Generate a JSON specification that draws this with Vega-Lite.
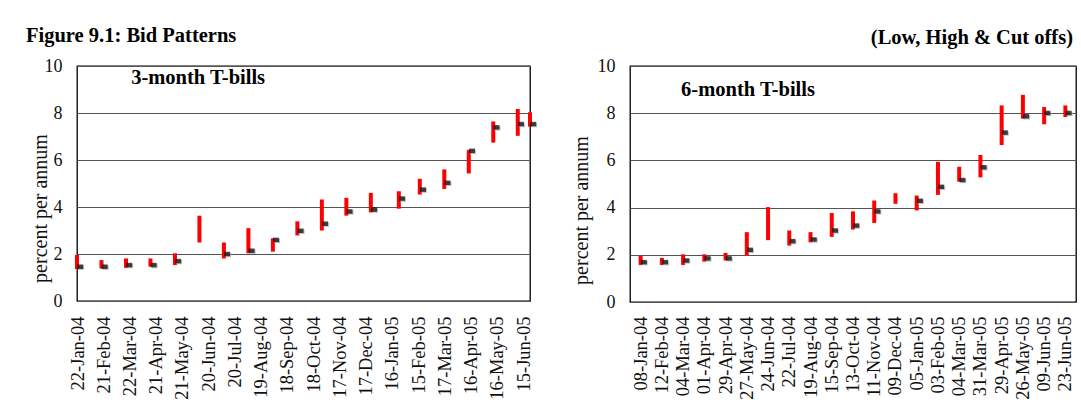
{
  "$schema": "https://vega.github.io/schema/vega-lite/v6.json",
  "background": "white",
  "padding": {"left": 25, "top": 25, "right": 0, "bottom": 0},
  "spacing": 32,
  "datasets": {
    "m3": [
      {"date": "2004-01-22T00:00", "low": 1.36, "high": 1.96, "cutoff": 1.46},
      {"date": "2004-02-19T00:00", "low": 1.38, "high": 1.74, "cutoff": 1.46},
      {"date": "2004-03-18T00:00", "low": 1.41, "high": 1.81, "cutoff": 1.53},
      {"date": "2004-04-15T00:00", "low": 1.46, "high": 1.81, "cutoff": 1.53},
      {"date": "2004-05-13T00:00", "low": 1.53, "high": 2.03, "cutoff": 1.70},
      {"date": "2004-06-10T00:00", "low": 2.49, "high": 3.63, "cutoff": null},
      {"date": "2004-07-08T00:00", "low": 1.81, "high": 2.49, "cutoff": 2.00},
      {"date": "2004-08-05T00:00", "low": 2.03, "high": 3.10, "cutoff": 2.14},
      {"date": "2004-09-02T00:00", "low": 2.10, "high": 2.67, "cutoff": 2.60},
      {"date": "2004-09-30T00:00", "low": 2.79, "high": 3.39, "cutoff": 2.99},
      {"date": "2004-10-28T00:00", "low": 3.00, "high": 4.32, "cutoff": 3.29},
      {"date": "2004-11-25T00:00", "low": 3.63, "high": 4.39, "cutoff": 3.81},
      {"date": "2004-12-23T00:00", "low": 3.77, "high": 4.60, "cutoff": 3.89},
      {"date": "2005-01-24T00:00", "low": 3.93, "high": 4.67, "cutoff": 4.36},
      {"date": "2005-02-17T00:00", "low": 4.53, "high": 5.20, "cutoff": 4.74},
      {"date": "2005-03-17T00:00", "low": 4.77, "high": 5.60, "cutoff": 5.03},
      {"date": "2005-04-14T00:00", "low": 5.43, "high": 6.43, "cutoff": 6.39},
      {"date": "2005-05-12T00:00", "low": 6.74, "high": 7.64, "cutoff": 7.39},
      {"date": "2005-06-09T00:00", "low": 7.03, "high": 8.17, "cutoff": 7.53},
      {"date": "2005-06-23T00:00", "low": 7.42, "high": 8.03, "cutoff": 7.53}
    ],
    "m6": [
      {"label": "08-Jan-04", "low": 1.57, "high": 1.95, "cutoff": 1.69},
      {"label": "12-Feb-04", "low": 1.57, "high": 1.87, "cutoff": 1.69},
      {"label": "04-Mar-04", "low": 1.57, "high": 2.02, "cutoff": 1.76},
      {"label": "01-Apr-04", "low": 1.71, "high": 2.02, "cutoff": 1.85},
      {"label": "29-Apr-04", "low": 1.76, "high": 2.08, "cutoff": 1.85},
      {"label": "27-May-04", "low": 1.97, "high": 2.96, "cutoff": 2.21},
      {"label": "24-Jun-04", "low": 2.62, "high": 4.02, "cutoff": null},
      {"label": "22-Jul-04", "low": 2.39, "high": 3.03, "cutoff": 2.58},
      {"label": "19-Aug-04", "low": 2.53, "high": 2.96, "cutoff": 2.65},
      {"label": "15-Sep-04", "low": 2.76, "high": 3.77, "cutoff": 3.03},
      {"label": "13-Oct-04", "low": 3.07, "high": 3.84, "cutoff": 3.24},
      {"label": "11-Nov-04", "low": 3.35, "high": 4.30, "cutoff": 3.84},
      {"label": "09-Dec-04", "low": 4.16, "high": 4.61, "cutoff": null},
      {"label": "05-Jan-05", "low": 3.88, "high": 4.51, "cutoff": 4.29},
      {"label": "03-Feb-05", "low": 4.54, "high": 5.94, "cutoff": 4.88},
      {"label": "04-Mar-05", "low": 5.10, "high": 5.73, "cutoff": 5.17},
      {"label": "31-Mar-05", "low": 5.28, "high": 6.23, "cutoff": 5.71},
      {"label": "29-Apr-05", "low": 6.65, "high": 8.33, "cutoff": 7.18},
      {"label": "26-May-05", "low": 7.77, "high": 8.78, "cutoff": 7.87},
      {"label": "09-Jun-05", "low": 7.53, "high": 8.26, "cutoff": 8.01},
      {"label": "23-Jun-05", "low": 7.84, "high": 8.33, "cutoff": 8.01}
    ]
  },
  "hconcat": [
    {
      "width": 453,
      "height": 235,
      "title": {"text": "Figure 9.1: Bid Patterns", "anchor": "start", "frame": "group", "dx": -51, "offset": -5.5, "baseline": "alphabetic", "fontSize": 20.5, "fontWeight": "bold", "font": "Liberation Serif", "color": "black"},
      "layer": [
        {
          "data": {"name": "m3"},
          "mark": {"type": "rule", "color": "#ff0000", "strokeWidth": 4, "clip": false},
          "encoding": {
            "x": {"field": "date", "type": "temporal",
              "scale": {"domain": [{"year": 2004, "month": 1, "date": 22}, {"year": 2005, "month": 6, "date": 23}]},
              "axis": {"title": null, "format": "%d-%b-%y", "labelAngle": 270, "labelFontSize": 18.5, "labelPadding": 15, "grid": false, "labelOverlap": false, "labelBound": false, "labelFlush": false, "tickCount": 40,
                "values": [
                  {"year": 2004, "month": 1, "date": 22}, {"year": 2004, "month": 2, "date": 21}, {"year": 2004, "month": 3, "date": 22},
                  {"year": 2004, "month": 4, "date": 21}, {"year": 2004, "month": 5, "date": 21}, {"year": 2004, "month": 6, "date": 20},
                  {"year": 2004, "month": 7, "date": 20}, {"year": 2004, "month": 8, "date": 19}, {"year": 2004, "month": 9, "date": 18},
                  {"year": 2004, "month": 10, "date": 18}, {"year": 2004, "month": 11, "date": 17}, {"year": 2004, "month": 12, "date": 17},
                  {"year": 2005, "month": 1, "date": 16}, {"year": 2005, "month": 2, "date": 15}, {"year": 2005, "month": 3, "date": 17},
                  {"year": 2005, "month": 4, "date": 16}, {"year": 2005, "month": 5, "date": 16}, {"year": 2005, "month": 6, "date": 15}
                ]}},
            "y": {"field": "low", "type": "quantitative",
              "scale": {"domain": [0, 10], "nice": false},
              "axis": {"title": "percent per annum", "values": [0, 2, 4, 6, 8, 10], "grid": true, "gridColor": "#555", "gridWidth": 1, "labelFontSize": 18, "labelPadding": 15, "titleFontSize": 20, "titleFontWeight": "normal", "titleX": -37, "titleY": 142, "titleAngle": 270, "titleBaseline": "middle", "titleAlign": "center"}},
            "y2": {"field": "high"}
          }
        },
        {
          "data": {"name": "m3"},
          "mark": {"type": "tick", "orient": "horizontal", "color": "#aaa", "size": 6, "thickness": 4.5, "xOffset": 4.2, "yOffset": 1, "clip": false},
          "encoding": {"x": {"field": "date", "type": "temporal"}, "y": {"field": "cutoff", "type": "quantitative"}}
        },
        {
          "data": {"name": "m3"},
          "mark": {"type": "tick", "orient": "horizontal", "color": "black", "size": 6, "thickness": 4.5, "xOffset": 3.2, "clip": false},
          "encoding": {"x": {"field": "date", "type": "temporal"}, "y": {"field": "cutoff", "type": "quantitative"}}
        },
        {
          "data": {"values": [{"panel": "3-month T-bills"}]},
          "mark": {"type": "text", "align": "left", "baseline": "alphabetic", "fontSize": 20.5, "fontWeight": "bold", "font": "Liberation Serif", "color": "black"},
          "encoding": {"text": {"field": "panel"}, "x": {"datum": {"year": 2004, "month": 3, "date": 24}, "type": "temporal"}, "y": {"datum": 9.25, "type": "quantitative"}}
        }
      ]
    },
    {
      "width": 446,
      "height": 236,
      "title": {"text": "(Low, High & Cut offs)", "anchor": "end", "frame": "group", "dx": -3, "offset": -7.5, "baseline": "alphabetic", "fontSize": 20.5, "fontWeight": "bold", "font": "Liberation Serif", "color": "black"},
      "layer": [
        {
          "data": {"name": "m6"},
          "mark": {"type": "rule", "color": "#ff0000", "strokeWidth": 4},
          "encoding": {
            "x": {"field": "label", "type": "nominal", "sort": null,
              "scale": {"paddingInner": 0, "paddingOuter": 0},
              "axis": {"title": null, "labelAngle": 270, "labelFontSize": 18.5, "labelPadding": 14, "grid": false, "labelOverlap": false, "labelBound": false}},
            "y": {"field": "low", "type": "quantitative",
              "scale": {"domain": [0, 10], "nice": false},
              "axis": {"title": "percent per annum", "values": [0, 2, 4, 6, 8, 10], "grid": true, "gridColor": "#555", "gridWidth": 1, "labelFontSize": 18, "labelPadding": 15, "titleFontSize": 20, "titleFontWeight": "normal", "titleX": -49, "titleY": 144, "titleAngle": 270, "titleBaseline": "middle", "titleAlign": "center"}},
            "y2": {"field": "high"}
          }
        },
        {
          "data": {"name": "m6"},
          "mark": {"type": "tick", "orient": "horizontal", "color": "#aaa", "size": 6, "thickness": 4.5, "xOffset": 4.2, "yOffset": 1, "clip": false},
          "encoding": {"x": {"field": "label", "type": "nominal", "sort": null}, "y": {"field": "cutoff", "type": "quantitative"}}
        },
        {
          "data": {"name": "m6"},
          "mark": {"type": "tick", "orient": "horizontal", "color": "black", "size": 6, "thickness": 4.5, "xOffset": 3.2, "clip": false},
          "encoding": {"x": {"field": "label", "type": "nominal", "sort": null}, "y": {"field": "cutoff", "type": "quantitative"}}
        },
        {
          "data": {"values": [{"panel": "6-month T-bills"}]},
          "mark": {"type": "text", "align": "left", "baseline": "alphabetic", "fontSize": 20.5, "fontWeight": "bold", "font": "Liberation Serif", "color": "black", "dx": -2},
          "encoding": {"text": {"field": "panel"}, "x": {"datum": "04-Mar-04", "type": "nominal"}, "y": {"datum": 8.71, "type": "quantitative"}}
        }
      ]
    }
  ],
  "config": {
    "font": "Liberation Serif",
    "view": {"stroke": "black", "strokeWidth": 1.3},
    "axis": {"labelFont": "Liberation Serif", "titleFont": "Liberation Serif", "labelColor": "#111", "titleColor": "#111", "domain": false, "ticks": false}
  }
}
